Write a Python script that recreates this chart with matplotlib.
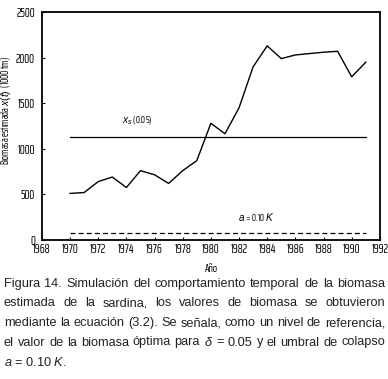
import numpy as np
import matplotlib
matplotlib.use('Agg')
import matplotlib.pyplot as plt

# datos
years = [1970, 1971, 1972, 1973, 1974, 1975, 1976, 1977, 1978, 1979,
         1980, 1981, 1982, 1983, 1984, 1985, 1986, 1987, 1988, 1989, 1990, 1991]
biomasa = [510, 520, 640, 690, 575, 760, 715, 620, 760, 870,
           1280, 1165, 1450, 1900, 2130, 1990, 2030, 2045, 2060, 2070, 1790, 1950]
xs_nivel = 1130      # x_s(0.05)
a_nivel = 80         # a = 0.10 K
ref_years = [1970, 1991]

caption = [
    "Figura 14. Simulación del comportamiento temporal de la biomasa",
    "estimada de la sardina, los valores de biomasa se obtuvieron",
    "mediante la ecuación (3.2). Se señala, como un nivel de referencia,",
    "el valor de la biomasa óptima para $\\delta$ = 0.05 y el umbral de colapso",
    "$a$ = 0.10 $K$.",
]

narrow = 'Saira ExtraCondensed'
capfont = 'Liberation Sans'
plt.rcParams['font.family'] = [narrow, 'Roboto Condensed', 'DejaVu Sans']
plt.rcParams['mathtext.fontset'] = 'custom'
plt.rcParams['mathtext.rm'] = capfont
plt.rcParams['mathtext.it'] = capfont + ':italic'

fig = plt.figure(figsize=(3.88, 3.79), dpi=100)
ax = fig.add_axes([0.108, 0.367, 0.871, 0.601])

ax.plot(years, biomasa, color='black', lw=1.0)
ax.plot(ref_years, [xs_nivel, xs_nivel], color='black', lw=0.9)
ax.plot(ref_years, [a_nivel, a_nivel], color='black', lw=0.9, ls=(0, (4, 2.5)))

ax.set_xlim(1968, 1992)
ax.set_ylim(0, 2500)
ax.set_xticks(np.arange(1968, 1993, 2))
ax.set_yticks(np.arange(0, 2501, 500))
ax.tick_params(direction='in', length=2, width=0.8, labelsize=9, pad=2)
ax.tick_params(axis='y', pad=5)
for s in ax.spines.values():
    s.set_linewidth(1.3)

ax.text(1974.8, 1310, r'$x_s$ (0.05)', fontsize=7.3, ha='center', va='center')
ax.text(1983.2, 250, r'$a$ = 0.10 $K$', fontsize=7.3, ha='center', va='center')

ax.set_xlabel('Año', fontsize=8, labelpad=5)
ax.set_ylabel(r'Biomasa estimada $x(t)$  (1000 tm)', fontsize=7.5)
ax.yaxis.set_label_coords(-0.086, 0.57)

# pie de figura justificado
fig.canvas.draw()
renderer = fig.canvas.get_renderer()
x0, x1 = 4, 385
probe = fig.text(0, 0, caption[0], fontsize=10, family=capfont)
fs = 10 * (x1 - x0) / probe.get_window_extent(renderer).width * 0.99
probe.remove()
ytop = 379 - 284
for i, line in enumerate(caption):
    y = (ytop - i * 19.5) / 379
    words = line.split(' ')
    if i == len(caption) - 1:
        fig.text(x0 / 388, y, line, fontsize=fs, va='center', ha='left',
                 color='#222222', family=capfont)
        continue
    objs = [fig.text(0, y, w, fontsize=fs, va='center', ha='left', color='#222222',
                     family=capfont) for w in words]
    widths = [o.get_window_extent(renderer).width for o in objs]
    gap = (x1 - x0 - sum(widths)) / (len(words) - 1)
    xp = x0
    for o, wd in zip(objs, widths):
        o.set_x(xp / 388)
        xp += wd + gap

fig.savefig('out.png', dpi=100)
